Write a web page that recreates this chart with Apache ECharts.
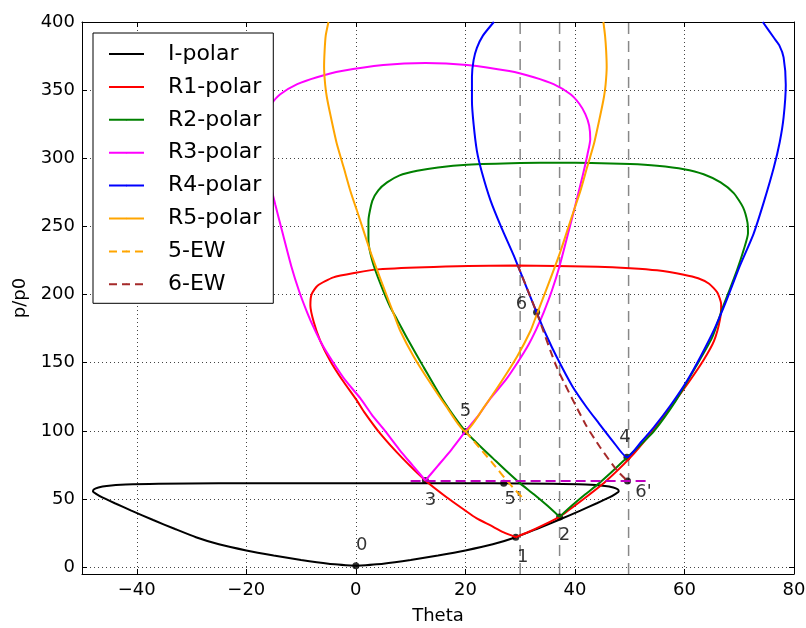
<!DOCTYPE html>
<html><head><meta charset="utf-8">
<script src="https://cdn.jsdelivr.net/npm/echarts@6/dist/echarts.min.js"></script>
<style>html,body{margin:0;padding:0;background:#fff}#c{width:806px;height:628px}</style>
</head><body><div id="c"></div>
<script>
// ---------------- data (theta, p/p0) ----------------
const I_POLAR = [[0,1],[5,2.6],[10,5.3],[15,8.6],[20,12.3],[25,16.8],[29.2,22],[33,28],[37,34.6],[41,41.5],[44,46.9],[46.3,51.2],[47.5,54],[48,55.6],[47.8,57.2],[47,58.5],[45.5,59.6],[42,60.6],[36,61.2],[25,61.5],[12,61.6],[0,61.6],[-12,61.6],[-25,61.5],[-36,61.2],[-42,60.6],[-45.5,59.6],[-47,58.5],[-47.8,57.2],[-48,55.6],[-47.5,54],[-46.3,51.2],[-44,46.9],[-41,41.5],[-37,34.6],[-33,28],[-29.2,22],[-25,16.8],[-20,12.3],[-15,8.6],[-10,5.3],[-5,2.6],[0,1]];
const R1_POLAR = [[29.2,22],[27,25.5],[24.6,30.6],[22,36],[20,41.5],[16.5,51.5],[12.7,63.6],[8.5,80],[4.5,97.8],[1.5,114],[0.2,122.2],[-2.5,137.5],[-4.7,151.5],[-6.5,166],[-7.7,180],[-8.3,192],[-8.1,200],[-7,206.5],[-4.1,212.6],[0,216],[4,218.5],[14.2,220.3],[29.2,221.3],[44.2,220.5],[50.1,219.4],[55,217.8],[59.9,214.6],[62.5,212],[64.5,208],[66,201.5],[66.7,193],[66.5,182],[65.4,166],[63.5,152],[61,137],[58.2,121.5],[56,110],[54,99],[50,80],[45.5,62.5],[42,51.3],[38.6,41],[37.2,37],[34,30.5],[31.5,25.8],[29.2,22]];
const R2_POLAR = [[37.2,36.9],[35,45],[32.5,53.5],[30,61.5],[27.5,70.5],[25,80],[22.5,89.5],[20,99.6],[16,122],[12.4,146.6],[9.5,167],[7.5,182],[6.3,190.6],[4.5,207.8],[3.0,224.9],[2.3,239.5],[2.3,254.2],[3.0,268.8],[4.1,276.5],[5.7,282.3],[8,287.5],[11.2,290.8],[15,293.3],[20.3,295.2],[30,296.5],[37.2,296.8],[43,296.6],[50.1,295.8],[55,294.5],[59.9,292],[63.5,288.3],[66.6,282.3],[69,274.5],[70.7,264],[71.5,253],[71.6,245],[70.9,234],[69.6,218],[68,201],[67,190.6],[65,168],[62,146.6],[58.4,122],[54.4,99.6],[51.9,89.5],[49.4,80],[46.9,70.5],[44.4,61.5],[41.9,53.5],[39.4,45],[37.2,36.9]];
const R3_POLAR = [[12.7,63.6],[15,74.5],[17.5,86.5],[20,99.6],[22.5,112],[24.6,124],[27.3,137],[29.5,150],[31.5,163],[33,175],[34.3,187],[35.8,203],[37.2,221],[38.7,244],[40.1,266],[41.4,287],[42.3,303],[42.8,314],[42.6,324],[41.9,332.4],[40.8,340],[39.2,347],[36.1,354.4],[32.5,359.5],[28,364],[20.3,368.5],[12.7,370],[5,368.5],[-2.6,364],[-7.1,359.5],[-10.7,354.4],[-13.8,347],[-15.4,340],[-16.5,332.4],[-17.2,324],[-17.4,314],[-16.9,303],[-16,287],[-14.7,266],[-13.3,244],[-11.8,221],[-10.4,203],[-8.9,187],[-7.6,175],[-6.1,163],[-4.1,150],[-1.9,137],[0.8,124],[2.9,112],[5.4,99.6],[7.9,86.5],[10.4,74.5],[12.7,63.6]];
const R4_POLAR = [[25.2,400],[23.2,390],[22.1,381],[21.5,372],[21.2,360],[21.2,342],[21.5,325],[22.1,305.5],[23,290],[24.6,269],[26.6,249],[28.8,229],[31,207],[33,187],[34.8,170],[36.7,154],[39.5,133],[42.2,117],[44,107.5],[47,92],[49.5,80.6],[52,91.5],[54.4,102.6],[57.5,119],[60.5,137],[63,155],[65.5,175],[67.8,197],[70,220],[72.6,244.4],[74.5,268],[76.3,293],[77.4,312],[78.1,330],[78.5,354],[78.1,374],[77.3,383],[76.3,388.6],[74.3,400]];
const R5_POLAR = [[-5,400],[-5.5,390],[-5.7,379],[-5.8,367],[-5.6,354],[-5.3,345],[-4.6,331],[-3.5,311],[-2.2,293],[-1,276],[0.5,258],[2.7,231],[5,206],[7,185],[8.1,173.5],[10.5,155],[13.3,137],[16.5,118],[20,99.6],[23.5,118],[26.7,137],[29.5,155],[31.9,173.5],[33,185],[35,206],[37.3,231],[39.5,258],[41,276],[42.2,293],[43.5,311],[44.6,331],[45.3,345],[45.6,354],[45.8,367],[45.7,379],[45.5,390],[45.2,400]];
const EW5 = [[20,99.6],[22.5,88],[25,76.2],[27.9,62],[30.9,48.9]];
const EW6 = [[29.5,222],[33,187],[36.7,146.6],[41.9,105.1],[44.6,88],[47.7,70.9],[49.6,63.2]];
const EW_H = [[10,63.3],[53.2,63.3]];
const V_LINES = [30, 37.2, 49.8];
const POINTS = [[0,1],[29.2,22],[37.2,36.9],[12.7,63.6],[49.5,80.6],[20,99.6],[27,61.6],[33,187],[49.6,63.2]];
const POINT_LABELS = ['0','1','2','3','4','5',"5'",'6',"6'"];
const SERIES_NAMES = ['I-polar','R1-polar','R2-polar','R3-polar','R4-polar','R5-polar','5-EW','6-EW'];

// ---------------- layout / style ----------------
const X_MIN = -50, X_MAX = 80, Y_MIN = -5, Y_MAX = 400;
const LABEL_OFFSETS = [[6,-20],[7,20],[5,18],[5,20],[-2,-20],[0,-20],[9,16],[-15,-8],[16,11]];
const COLORS = ['#000000','#ff0000','#008000','#ff00ff','#0000ff','#ffa500','#ffa500','#a52a2a'];
const FONT = 'DejaVu Sans';

const chart = echarts.init(document.getElementById('c'), null, {renderer:'canvas'});

function fmt(v){ return String(v).replace('-', '\u2212'); }
const gridLine = {show:true, lineStyle:{color:'#444', type:[1,3], width:1}};
const axLine = {show:true, onZero:false, lineStyle:{color:'#000', width:1}};
const tick = {show:true, inside:true, length:5, lineStyle:{color:'#000', width:1}};

const xBase = {type:'value', min:X_MIN, max:X_MAX, splitNumber:6};
const yBase = {type:'value', min:Y_MIN, max:Y_MAX, splitNumber:8};

const series = [];
V_LINES.forEach(t => series.push({type:'line', data:[[t,Y_MIN],[t,Y_MAX]], symbol:'none', silent:true,
  lineStyle:{color:'#888', width:1.5, type:[11,7]}, z:1}));
series.push({type:'scatter', data:POINTS.map((p,i)=>({value:p, label:{offset:LABEL_OFFSETS[i]}})),
  symbol:'circle', symbolSize:7, itemStyle:{color:'#000'}, z:2,
  label:{show:true, position:'inside', formatter:(p)=>POINT_LABELS[p.dataIndex], fontSize:18, fontFamily:FONT, color:'#000'}});
const curves = [I_POLAR, R1_POLAR, R2_POLAR, R3_POLAR, R4_POLAR, R5_POLAR, EW5, EW6];
curves.forEach((d,i)=>{
  series.push({type:'line', name:SERIES_NAMES[i], data:d, symbol:'none', smooth:0.2, clip:true, z:3,
    lineStyle:{color:COLORS[i], width:2, type: i>=6 ? [8,5] : 'solid'}, itemStyle:{color:COLORS[i]}});
});
series.push({type:'line', data:EW_H, symbol:'none', z:3, lineStyle:{color:'#bf00bf', width:2, type:[10,5]}});

chart.setOption({
  animation:false,
  backgroundColor:'#fff',
  grid:{left:82, right:12, top:22, bottom:54, containLabel:false, outerBoundsMode:'none'},
  legend:{data:SERIES_NAMES, orient:'vertical', left:93, top:33, backgroundColor:'#fff', borderColor:'#000', borderWidth:1,
    padding:[10,12,8,15], itemWidth:35, itemHeight:2, itemGap:10.9, zlevel:1, z:10,
    textStyle:{fontSize:22, fontFamily:FONT, color:'#000', padding:[0,0,0,19]}},
  xAxis:[
    Object.assign({}, xBase, {position:'bottom', axisLine:axLine, axisTick:tick, splitLine:gridLine,
      axisLabel:{fontSize:18, fontFamily:FONT, color:'#000', margin:7, showMinLabel:false, formatter:fmt},
      name:'Theta', nameLocation:'middle', nameGap:33, nameTextStyle:{fontSize:18, fontFamily:FONT, color:'#000'}}),
    Object.assign({}, xBase, {position:'top', axisLine:axLine, axisTick:tick, splitLine:{show:false}, axisLabel:{show:false}})
  ],
  yAxis:[
    Object.assign({}, yBase, {position:'left', axisLine:axLine, axisTick:tick, splitLine:gridLine,
      axisLabel:{fontSize:18, fontFamily:FONT, color:'#000', margin:7, showMinLabel:false, formatter:fmt},
      name:'p/p0', nameLocation:'middle', nameGap:46, nameRotate:90, nameTextStyle:{fontSize:18, fontFamily:FONT, color:'#000'}}),
    Object.assign({}, yBase, {position:'right', axisLine:axLine, axisTick:tick, splitLine:{show:false}, axisLabel:{show:false}})
  ],
  series: series
});
</script></body></html>
